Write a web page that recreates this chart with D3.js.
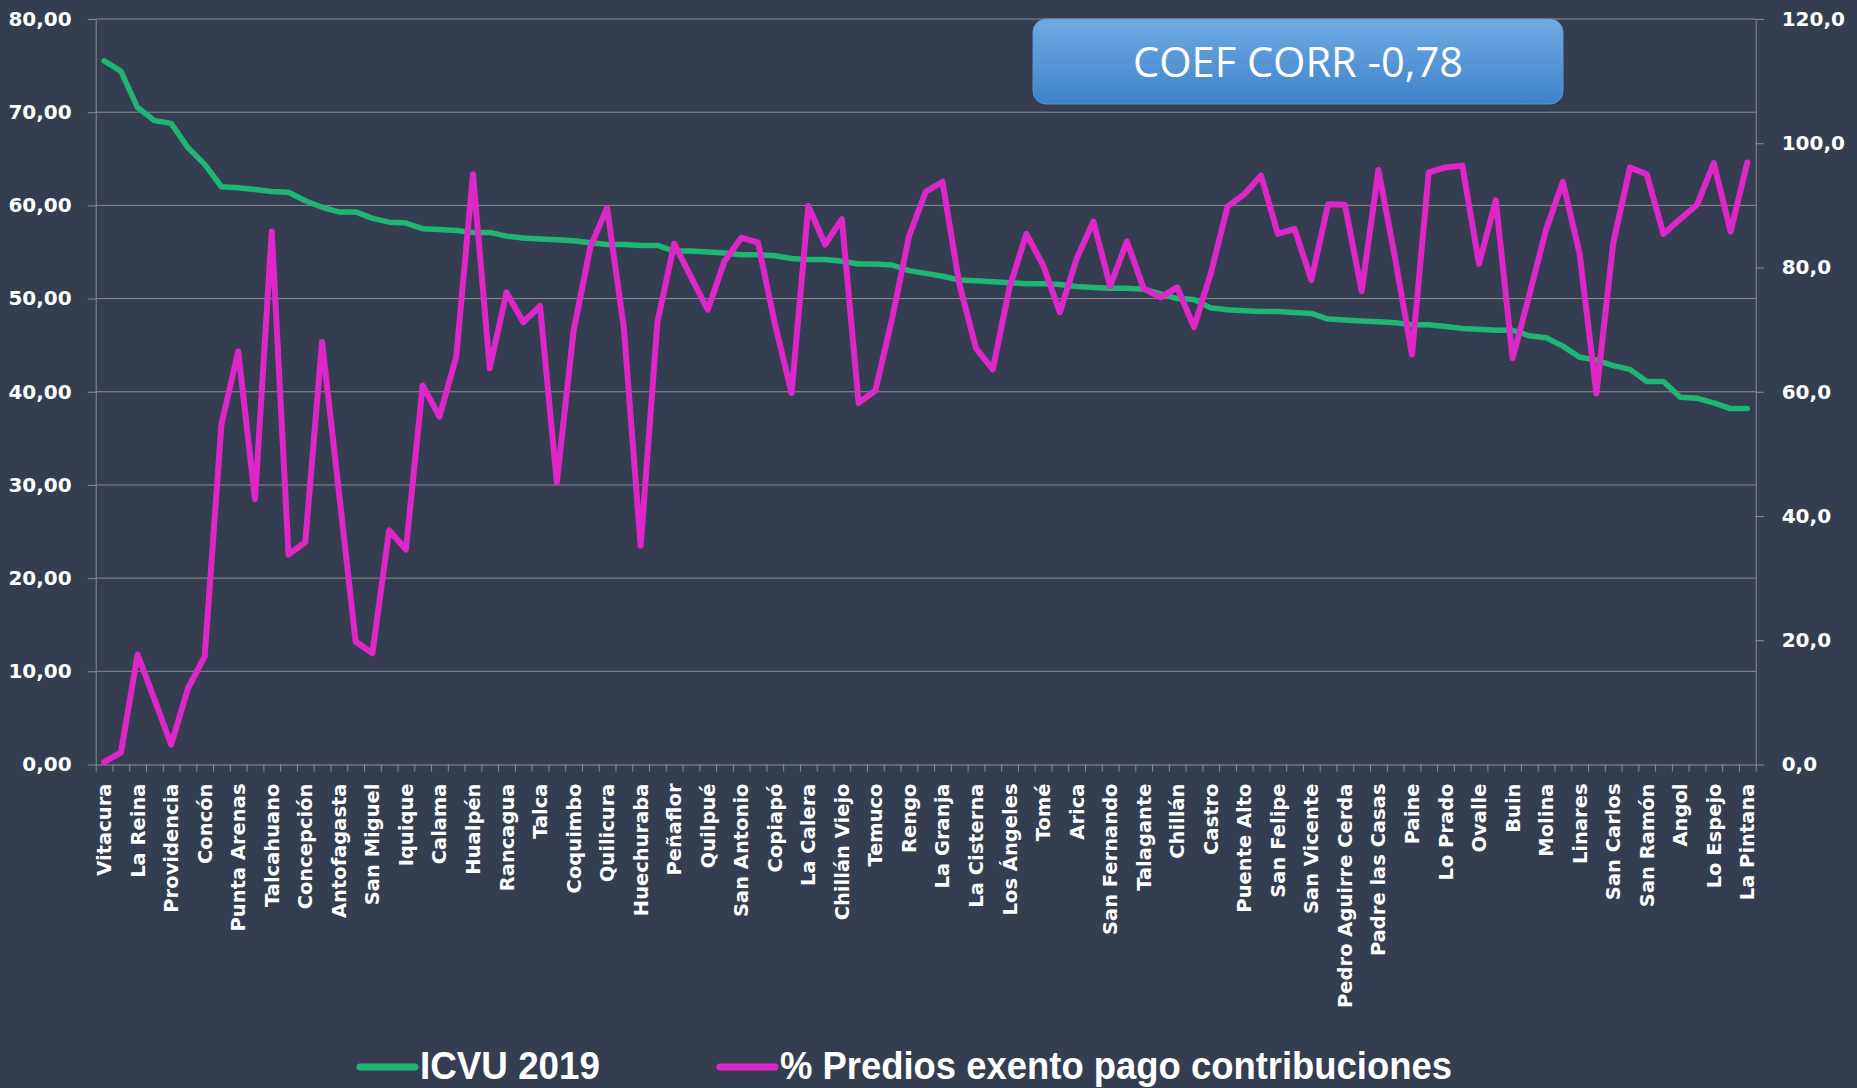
<!DOCTYPE html>
<html>
<head>
<meta charset="utf-8">
<script src="https://d3js.org/d3.v7.min.js"></script>
<style>
  html, body { margin: 0; padding: 0; background: #343e50; }
  svg { display: block; }
  .ax text { fill: #ffffff; font-family: "DejaVu Sans", Verdana, sans-serif; font-weight: bold; font-size: 20px; }
  .ax path, .ax line { stroke: #8c8c8c; }
  .xlab text { font-size: 19.5px; }
</style>
</head>
<body>
<svg id="chart" width="1857" height="1088"></svg>
<script>
// communes, ordered by ICVU 2019 (only every other name is shown on the axis)
const communes = [
  "Vitacura","Las Condes","La Reina","Lo Barnechea","Providencia","Ñuñoa","Concón","Viña del Mar",
  "Punta Arenas","Coyhaique","Talcahuano","Valdivia","Concepción","Puerto Montt","Antofagasta","Macul",
  "San Miguel","Santiago","Iquique","Osorno","Calama","La Serena","Hualpén","San Pedro de la Paz",
  "Rancagua","Chiguayante","Talca","Maipú","Coquimbo","Machalí","Quilicura","Independencia",
  "Huechuraba","Valparaíso","Peñaflor","Villa Alemana","Quilpué","Colina","San Antonio","Estación Central",
  "Copiapó","Quinta Normal","La Calera","Los Andes","Chillán Viejo","Coronel","Temuco","Curicó",
  "Rengo","Peñalolén","La Granja","La Florida","La Cisterna","Lampa","Los Ángeles","Lota",
  "Tomé","Quillota","Arica","Recoleta","San Fernando","Padre Hurtado","Talagante","Cerrillos",
  "Chillán","Renca","Castro","San Bernardo","Puente Alto","Pudahuel","San Felipe","El Bosque",
  "San Vicente","Conchalí","Pedro Aguirre Cerda","Penco","Padre las Casas","Melipilla","Paine","Cerro Navia",
  "Lo Prado","San Joaquín","Ovalle","Vallenar","Buin","Villarrica","Molina","Limache",
  "Linares","Parral","San Carlos","Cauquenes","San Ramón","San Javier","Angol","Ancud",
  "Lo Espejo","Alto Hospicio","La Pintana"
];

// ICVU 2019 (left axis)
const icvu = [
  75.5,74.4,70.5,69.1,68.8,66.2,64.4,62.0,61.9,61.7,61.5,61.4,60.5,59.8,59.3,59.3,
  58.6,58.2,58.1,57.5,57.4,57.3,57.1,57.1,56.7,56.5,56.4,56.3,56.2,56.0,55.8,55.8,
  55.7,55.7,55.1,55.1,55.0,54.9,54.7,54.7,54.6,54.3,54.2,54.2,54.0,53.7,53.7,53.6,
  53.0,52.7,52.4,52.0,51.9,51.8,51.7,51.6,51.6,51.5,51.3,51.2,51.1,51.1,51.0,50.5,
  50.0,49.9,49.0,48.8,48.7,48.6,48.6,48.5,48.4,47.8,47.7,47.6,47.5,47.4,47.2,47.2,
  47.0,46.8,46.7,46.6,46.6,46.0,45.8,44.9,43.7,43.4,42.8,42.4,41.1,41.1,39.4,39.3,
  38.8,38.2,38.2
];

// % predios exentos del pago de contribuciones (right axis)
const exentos = [
  0.4,1.9,17.7,10.5,3.2,12.2,17.4,54.8,66.5,42.7,85.8,33.8,35.8,68.0,44.0,19.8,
  17.9,37.7,34.6,61.0,56.0,65.6,95.0,63.8,76.0,71.2,73.8,45.4,69.8,83.3,89.6,70.2,
  35.2,71.2,83.8,78.5,73.2,81.0,84.8,84.0,71.0,59.8,89.9,83.7,87.8,58.2,60.2,71.8,
  85.0,92.2,93.8,77.4,67.0,63.6,76.8,85.4,80.4,72.8,81.4,87.4,77.0,84.2,76.6,75.2,
  76.8,70.4,79.0,89.8,91.8,94.8,85.4,86.2,78.0,90.2,90.1,76.2,95.7,81.4,66.0,95.3,
  96.1,96.4,80.6,90.8,65.4,75.6,86.1,93.8,82.2,59.7,83.9,96.1,95.0,85.4,87.8,90.1,
  96.8,85.8,96.9
];

const leftTicks = [0,10,20,30,40,50,60,70,80];
const rightTicks = [0,20,40,60,80,100,120];
const seriesNames = ["ICVU 2019", "% Predios exento pago contribuciones"];
const seriesColors = ["#1fb574", "#dd27c8"];
const coefLabel = "COEF CORR -0,78";

const svg = d3.select("#chart");
const plotLeft = 95.7, plotRight = 1755.7, plotTop = 19, plotBottom = 764.5;

const x = d3.scaleBand().domain(communes).range([plotLeft, plotRight]).padding(0);
const xi = d3.scaleLinear().domain([0, communes.length]).range([plotLeft, plotRight]);
const yL = d3.scaleLinear().domain([0, 80]).range([plotBottom, plotTop]);
const yR = d3.scaleLinear().domain([0, 120]).range([plotBottom, plotTop]);
const fmt2 = v => d3.format(".2f")(v).replace(".", ",");
const fmt1 = v => d3.format(".1f")(v).replace(".", ",");

// gridlines
svg.append("g").selectAll("line").data(leftTicks.slice(1)).join("line")
  .attr("x1", plotLeft).attr("x2", plotRight)
  .attr("y1", d => yL(d)).attr("y2", d => yL(d))
  .attr("stroke", "#8c8c8c").attr("stroke-width", 1);

// left axis
svg.append("g").attr("class", "ax").attr("transform", `translate(${plotLeft},0)`)
  .call(d3.axisLeft(yL).tickValues(leftTicks).tickFormat(fmt2).tickSize(8).tickPadding(16).tickSizeOuter(0));

// right axis
svg.append("g").attr("class", "ax").attr("transform", `translate(${plotRight},0)`)
  .call(d3.axisRight(yR).tickValues(rightTicks).tickFormat(fmt1).tickSize(8).tickPadding(18).tickSizeOuter(0));

// bottom axis: tick marks at band edges
svg.append("g").attr("class", "ax").attr("transform", `translate(0,${plotBottom})`)
  .call(d3.axisBottom(xi).tickValues(d3.range(communes.length + 1)).tickFormat("").tickSize(7).tickSizeOuter(0));

// bottom labels, every other commune
const gx = svg.append("g").attr("class", "ax xlab").attr("transform", `translate(0,${plotBottom})`)
  .call(d3.axisBottom(x).tickValues(communes.filter((c, i) => i % 2 === 0)).tickSize(0));
gx.select(".domain").remove();
gx.selectAll("text")
  .attr("transform", "rotate(-90)")
  .attr("x", -19).attr("y", 0).attr("dy", "0.36em")
  .style("text-anchor", "end");

// lines
const lineL = d3.line().x(d => x(d[0]) + x.bandwidth() / 2).y(d => yL(d[1]));
const lineR = d3.line().x(d => x(d[0]) + x.bandwidth() / 2).y(d => yR(d[1]));

svg.append("path").datum(communes.map((c, i) => [c, icvu[i]]))
  .attr("d", lineL).attr("fill", "none")
  .attr("stroke", seriesColors[0]).attr("stroke-width", 5.5)
  .attr("stroke-linejoin", "round").attr("stroke-linecap", "round");

svg.append("path").datum(communes.map((c, i) => [c, exentos[i]]))
  .attr("d", lineR).attr("fill", "none")
  .attr("stroke", seriesColors[1]).attr("stroke-width", 6)
  .attr("stroke-linejoin", "round").attr("stroke-linecap", "round");

// correlation box
const defs = svg.append("defs");
const grad = defs.append("linearGradient").attr("id", "boxgrad").attr("x1", 0).attr("y1", 0).attr("x2", 0).attr("y2", 1);
grad.append("stop").attr("offset", "0%").attr("stop-color", "#70aae2");
grad.append("stop").attr("offset", "100%").attr("stop-color", "#3d83cb");

svg.append("rect")
  .attr("x", 1033).attr("y", 19).attr("width", 530).attr("height", 85)
  .attr("rx", 13).attr("fill", "url(#boxgrad)")
  .attr("stroke", "#5b95d0").attr("stroke-width", 1);
svg.append("text")
  .attr("x", 1298).attr("y", 77)
  .attr("text-anchor", "middle")
  .attr("fill", "#ffffff")
  .style("font-family", "'Open Sans', sans-serif")
  .style("font-size", "42px")
  .attr("textLength", 330).attr("lengthAdjust", "spacingAndGlyphs")
  .text(coefLabel);

// legend
const legendX = [360, 720];
const legendW = [180, 672];
const legend = svg.append("g");
seriesNames.forEach((name, i) => {
  legend.append("line")
    .attr("x1", legendX[i]).attr("x2", legendX[i] + 55)
    .attr("y1", 1067).attr("y2", 1067)
    .attr("stroke", seriesColors[i]).attr("stroke-width", 7).attr("stroke-linecap", "round");
  legend.append("text")
    .attr("x", legendX[i] + 60).attr("y", 1079)
    .attr("fill", "#ffffff")
    .style("font-family", "'Liberation Sans', Arial, sans-serif")
    .style("font-weight", "bold")
    .style("font-size", "38px")
    .attr("textLength", legendW[i]).attr("lengthAdjust", "spacingAndGlyphs")
    .text(name);
});
</script>
</body>
</html>
